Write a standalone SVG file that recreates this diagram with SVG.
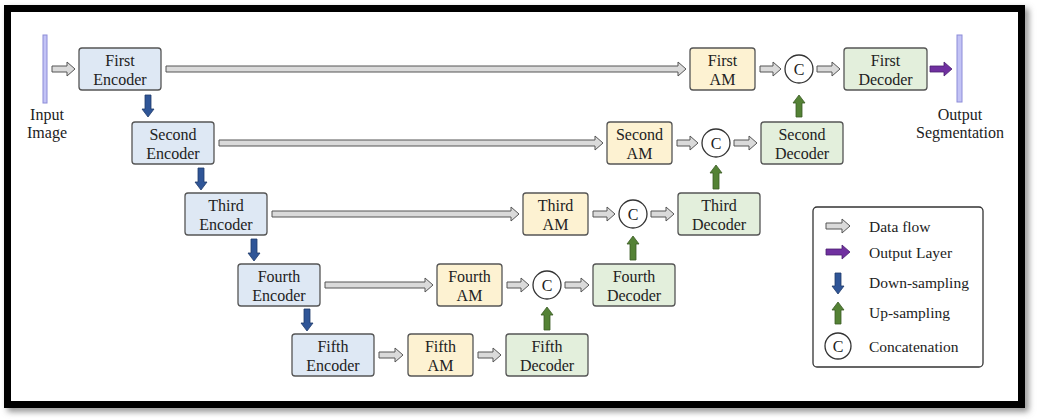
<svg xmlns="http://www.w3.org/2000/svg" width="1038" height="420" viewBox="0 0 1038 420">
<defs>
<filter id="sh" x="-5%" y="-5%" width="110%" height="110%"><feGaussianBlur stdDeviation="3"/></filter>
<style>
text{font-family:"Liberation Serif","Times New Roman",serif;font-size:16px;fill:#222;text-anchor:middle}
.enc{fill:#dee8f4;stroke:#555;stroke-width:1.3}
.am{fill:#fdf2d2;stroke:#555;stroke-width:1.3}
.dec{fill:#e3efdc;stroke:#555;stroke-width:1.3}
.cc{fill:#fff;stroke:#333;stroke-width:1.3}
.bar{fill:#c3c3f5;stroke:#8c8cd8;stroke-width:1}
.df{fill:#dadada;stroke:#555;stroke-width:1}
.out{fill:#7030a0;stroke:#4a1f6e;stroke-width:0.8}
.down{fill:#2f5597;stroke:#1f3a6a;stroke-width:0.8}
.up{fill:#548235;stroke:#3a5a24;stroke-width:0.8}
.lg{text-anchor:start;font-size:15.5px}
</style>
</defs>
<rect width="1038" height="420" fill="#fff"/>
<rect x="11" y="12" width="1014" height="396" fill="none" stroke="#888" stroke-width="7" filter="url(#sh)"/>
<rect x="7.5" y="8.5" width="1014" height="396" fill="#fff" stroke="#000" stroke-width="7"/>

<g id="input">
<rect class="bar" x="43" y="35" width="4" height="68"/>
<text x="47" y="120">Input</text>
<text x="47" y="138">Image</text>
</g>
<g id="output">
<rect class="bar" x="957" y="35" width="5" height="67"/>
<text x="960" y="120">Output</text>
<text x="960" y="138">Segmentation</text>
</g>

<g id="first-encoder"><rect class="enc" x="79" y="48" width="82" height="42" rx="3"/><text x="120" y="66">First</text><text x="120" y="85">Encoder</text></g>
<g id="second-encoder"><rect class="enc" x="132" y="122" width="82" height="42" rx="3"/><text x="173" y="140">Second</text><text x="173" y="159">Encoder</text></g>
<g id="third-encoder"><rect class="enc" x="185" y="193" width="82" height="42" rx="3"/><text x="226" y="211">Third</text><text x="226" y="230">Encoder</text></g>
<g id="fourth-encoder"><rect class="enc" x="238" y="264" width="82" height="42" rx="3"/><text x="279" y="282">Fourth</text><text x="279" y="301">Encoder</text></g>
<g id="fifth-encoder"><rect class="enc" x="292" y="334" width="82" height="42" rx="3"/><text x="333" y="352">Fifth</text><text x="333" y="371">Encoder</text></g>

<g id="first-am"><rect class="am" x="690" y="48" width="65" height="42" rx="3"/><text x="722.5" y="66">First</text><text x="722.5" y="85">AM</text></g>
<g id="second-am"><rect class="am" x="607" y="122" width="65" height="42" rx="3"/><text x="639.5" y="140">Second</text><text x="639.5" y="159">AM</text></g>
<g id="third-am"><rect class="am" x="523" y="193" width="65" height="42" rx="3"/><text x="555.5" y="211">Third</text><text x="555.5" y="230">AM</text></g>
<g id="fourth-am"><rect class="am" x="437" y="264" width="65" height="42" rx="3"/><text x="469.5" y="282">Fourth</text><text x="469.5" y="301">AM</text></g>
<g id="fifth-am"><rect class="am" x="408" y="334" width="65" height="42" rx="3"/><text x="440.5" y="352">Fifth</text><text x="440.5" y="371">AM</text></g>

<g id="first-decoder"><rect class="dec" x="844" y="48" width="83" height="42" rx="3"/><text x="885.5" y="66">First</text><text x="885.5" y="85">Decoder</text></g>
<g id="second-decoder"><rect class="dec" x="761" y="122" width="82" height="42" rx="3"/><text x="802" y="140">Second</text><text x="802" y="159">Decoder</text></g>
<g id="third-decoder"><rect class="dec" x="678" y="193" width="82" height="42" rx="3"/><text x="719" y="211">Third</text><text x="719" y="230">Decoder</text></g>
<g id="fourth-decoder"><rect class="dec" x="593" y="264" width="82" height="42" rx="3"/><text x="634" y="282">Fourth</text><text x="634" y="301">Decoder</text></g>
<g id="fifth-decoder"><rect class="dec" x="506" y="334" width="82" height="42" rx="3"/><text x="547" y="352">Fifth</text><text x="547" y="371">Decoder</text></g>

<g id="concat-1"><circle class="cc" cx="799" cy="69" r="14"/><text x="799" y="75">C</text></g>
<g id="concat-2"><circle class="cc" cx="716" cy="143" r="14"/><text x="716" y="149">C</text></g>
<g id="concat-3"><circle class="cc" cx="633" cy="214" r="14"/><text x="633" y="220">C</text></g>
<g id="concat-4"><circle class="cc" cx="547" cy="285" r="14"/><text x="547" y="291">C</text></g>

<g id="connectors">
<path class="df" d="M52,66 H67 V62 L75,69 L67,76 V72 H52 Z"/>
<path class="df" d="M166,66 H678 V62 L686,69 L678,76 V72 H166 Z"/>
<path class="df" d="M219,140 H595 V136 L603,143 L595,150 V146 H219 Z"/>
<path class="df" d="M272,211 H511 V207 L519,214 L511,221 V217 H272 Z"/>
<path class="df" d="M325,282 H425 V278 L433,285 L425,292 V288 H325 Z"/>
<path class="df" d="M379,352 H395 V348 L403,355 L395,362 V358 H379 Z"/>
<path class="df" d="M478,352 H493 V348 L501,355 L493,362 V358 H478 Z"/>
<path class="df" d="M760,66 H773 V62 L781,69 L773,76 V72 H760 Z"/>
<path class="df" d="M817,66 H832 V62 L840,69 L832,76 V72 H817 Z"/>
<path class="df" d="M677,140 H690 V136 L698,143 L690,150 V146 H677 Z"/>
<path class="df" d="M734,140 H749 V136 L757,143 L749,150 V146 H734 Z"/>
<path class="df" d="M593,211 H607 V207 L615,214 L607,221 V217 H593 Z"/>
<path class="df" d="M651,211 H666 V207 L674,214 L666,221 V217 H651 Z"/>
<path class="df" d="M507,282 H521 V278 L529,285 L521,292 V288 H507 Z"/>
<path class="df" d="M565,282 H581 V278 L589,285 L581,292 V288 H565 Z"/>
<path class="out" d="M930,66 H944 V62 L952,69 L944,76 V72 H930 Z"/>
<path class="up" d="M796,117 V103 H793 L799,95 L805,103 H802 V117 Z"/>
<path class="up" d="M713,189 V173 H710 L716,165 L722,173 H719 V189 Z"/>
<path class="up" d="M630,260 V244 H627 L633,236 L639,244 H636 V260 Z"/>
<path class="up" d="M544,330 V315 H541 L547,307 L553,315 H550 V330 Z"/>
<path class="down" d="M145,95 V109 H142 L148,117 L154,109 H151 V95 Z"/>
<path class="down" d="M198,168 V182 H195 L201,190 L207,182 H204 V168 Z"/>
<path class="down" d="M251,239 V253 H248 L254,261 L260,253 H257 V239 Z"/>
<path class="down" d="M304,309 V323 H301 L307,331 L313,323 H310 V309 Z"/>
</g>

<g id="legend">
<rect x="813" y="207" width="170" height="160" rx="4" fill="#fff" stroke="#333" stroke-width="1.3"/>
<path class="df" d="M826,223 H842 V219 L850,226 L842,233 V229 H826 Z"/>
<path class="out" d="M826,249 H842 V245 L850,252 L842,259 V255 H826 Z"/>
<path class="down" d="M835,273 V286 H832 L838,294 L844,286 H841 V273 Z"/>
<path class="up" d="M835,324 V310 H832 L838,302 L844,310 H841 V324 Z"/>
<circle class="cc" cx="838" cy="346" r="13"/><text x="838" y="352">C</text>
<text class="lg" x="869" y="232">Data flow</text>
<text class="lg" x="869" y="258">Output Layer</text>
<text class="lg" x="869" y="288">Down-sampling</text>
<text class="lg" x="869" y="318">Up-sampling</text>
<text class="lg" x="869" y="352">Concatenation</text>
</g>
</svg>
